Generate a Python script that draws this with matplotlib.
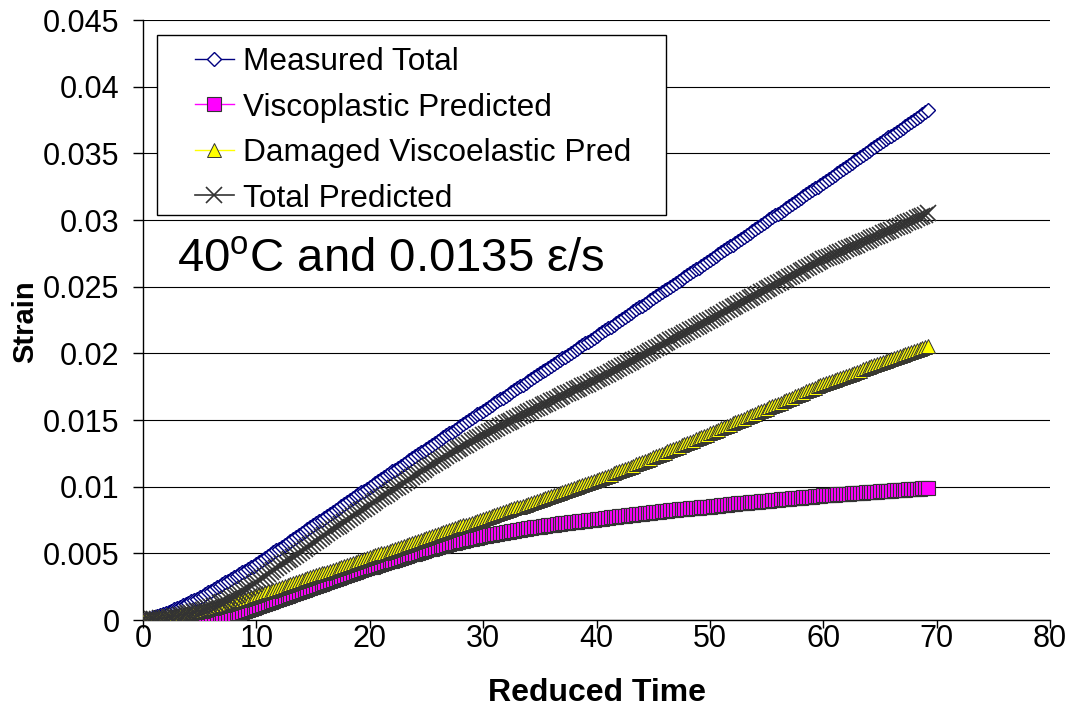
import matplotlib
matplotlib.use("Agg")
import matplotlib.pyplot as plt
from matplotlib.patches import Rectangle

plt.rcParams["font.family"] = ["Liberation Sans", "DejaVu Sans"]
plt.rcParams["mathtext.fontset"] = "custom"
plt.rcParams["mathtext.rm"] = "Liberation Sans"
plt.rcParams["mathtext.it"] = "Liberation Sans:italic"
plt.rcParams["mathtext.bf"] = "Liberation Sans:bold"

# Reduced time samples (one row per time unit)
reduced_time = [
    0, 0.25, 0.5, 0.75, 1, 1.25, 1.5, 1.75, 2, 2.25, 2.5, 2.75,
    3, 3.25, 3.5, 3.75, 4, 4.25, 4.5, 4.75, 5, 5.25, 5.5, 5.75,
    6, 6.25, 6.5, 6.75, 7, 7.25, 7.5, 7.75, 8, 8.25, 8.5, 8.75,
    9, 9.25, 9.5, 9.75, 10, 10.25, 10.5, 10.75, 11, 11.25, 11.5, 11.75,
    12, 12.25, 12.5, 12.75, 13, 13.25, 13.5, 13.75, 14, 14.25, 14.5, 14.75,
    15, 15.25, 15.5, 15.75, 16, 16.25, 16.5, 16.75, 17, 17.25, 17.5, 17.75,
    18, 18.25, 18.5, 18.75, 19, 19.25, 19.5, 19.75, 20, 20.25, 20.5, 20.75,
    21, 21.25, 21.5, 21.75, 22, 22.25, 22.5, 22.75, 23, 23.25, 23.5, 23.75,
    24, 24.25, 24.5, 24.75, 25, 25.25, 25.5, 25.75, 26, 26.25, 26.5, 26.75,
    27, 27.25, 27.5, 27.75, 28, 28.25, 28.5, 28.75, 29, 29.25, 29.5, 29.75,
    30, 30.25, 30.5, 30.75, 31, 31.25, 31.5, 31.75, 32, 32.25, 32.5, 32.75,
    33, 33.25, 33.5, 33.75, 34, 34.25, 34.5, 34.75, 35, 35.25, 35.5, 35.75,
    36, 36.25, 36.5, 36.75, 37, 37.25, 37.5, 37.75, 38, 38.25, 38.5, 38.75,
    39, 39.25, 39.5, 39.75, 40, 40.25, 40.5, 40.75, 41, 41.25, 41.5, 41.75,
    42, 42.25, 42.5, 42.75, 43, 43.25, 43.5, 43.75, 44, 44.25, 44.5, 44.75,
    45, 45.25, 45.5, 45.75, 46, 46.25, 46.5, 46.75, 47, 47.25, 47.5, 47.75,
    48, 48.25, 48.5, 48.75, 49, 49.25, 49.5, 49.75, 50, 50.25, 50.5, 50.75,
    51, 51.25, 51.5, 51.75, 52, 52.25, 52.5, 52.75, 53, 53.25, 53.5, 53.75,
    54, 54.25, 54.5, 54.75, 55, 55.25, 55.5, 55.75, 56, 56.25, 56.5, 56.75,
    57, 57.25, 57.5, 57.75, 58, 58.25, 58.5, 58.75, 59, 59.25, 59.5, 59.75,
    60, 60.25, 60.5, 60.75, 61, 61.25, 61.5, 61.75, 62, 62.25, 62.5, 62.75,
    63, 63.25, 63.5, 63.75, 64, 64.25, 64.5, 64.75, 65, 65.25, 65.5, 65.75,
    66, 66.25, 66.5, 66.75, 67, 67.25, 67.5, 67.75, 68, 68.25, 68.5, 68.75,
    69, 69.25,
]

# Strain series in microstrain
measured_total_ue = [
    0, 50, 100, 150, 200, 275, 350, 425, 500, 600, 700, 800,
    900, 1000, 1100, 1200, 1300, 1400, 1500, 1600, 1700, 1825, 1950, 2075,
    2200, 2325, 2450, 2575, 2700, 2825, 2950, 3075, 3200, 3325, 3450, 3575,
    3700, 3825, 3950, 4075, 4200, 4345, 4490, 4635, 4780, 4925, 5070, 5215,
    5360, 5505, 5650, 5795, 5940, 6085, 6230, 6375, 6520, 6665, 6810, 6955,
    7100, 7245, 7390, 7535, 7680, 7825, 7970, 8115, 8260, 8405, 8550, 8695,
    8840, 8985, 9130, 9275, 9420, 9565, 9710, 9855, 10000, 10140, 10290, 10430,
    10570, 10710, 10860, 11000, 11140, 11280, 11430, 11570, 11710, 11850, 12000, 12140,
    12280, 12420, 12570, 12710, 12850, 12990, 13140, 13280, 13420, 13560, 13710, 13850,
    13990, 14130, 14280, 14420, 14560, 14700, 14850, 14990, 15130, 15270, 15420, 15560,
    15700, 15840, 15980, 16120, 16260, 16400, 16540, 16680, 16820, 16960, 17100, 17240,
    17380, 17520, 17660, 17800, 17940, 18080, 18220, 18360, 18500, 18640, 18780, 18920,
    19060, 19200, 19340, 19480, 19620, 19760, 19900, 20040, 20180, 20320, 20460, 20600,
    20740, 20880, 21020, 21160, 21300, 21440, 21590, 21730, 21870, 22010, 22160, 22300,
    22440, 22580, 22730, 22870, 23010, 23150, 23300, 23440, 23580, 23720, 23870, 24010,
    24150, 24290, 24440, 24580, 24720, 24860, 25010, 25150, 25290, 25430, 25580, 25720,
    25860, 26000, 26150, 26290, 26430, 26570, 26720, 26860, 27000, 27150, 27290, 27440,
    27580, 27730, 27870, 28020, 28160, 28310, 28450, 28600, 28740, 28890, 29030, 29180,
    29320, 29470, 29610, 29760, 29900, 30050, 30190, 30340, 30480, 30630, 30770, 30920,
    31060, 31210, 31350, 31500, 31640, 31790, 31930, 32080, 32220, 32370, 32510, 32660,
    32800, 32950, 33090, 33240, 33390, 33540, 33680, 33830, 33980, 34120, 34270, 34420,
    34570, 34710, 34860, 35010, 35160, 35300, 35450, 35600, 35740, 35890, 36040, 36190,
    36330, 36480, 36630, 36780, 36920, 37070, 37220, 37360, 37510, 37660, 37810, 37950,
    38100, 38250,
]

viscoplastic_ue = [
    0, 0, 0, 0, 0, 0, 0, 0, 0, 0, 0, 3,
    6, 8, 10, 13, 17, 22, 28, 36, 45, 58, 72, 92,
    115, 145, 175, 210, 250, 290, 335, 380, 430, 490, 555, 625,
    695, 770, 845, 925, 1000, 1075, 1150, 1225, 1300, 1375, 1450, 1525,
    1600, 1675, 1750, 1825, 1900, 1975, 2050, 2125, 2200, 2275, 2350, 2425,
    2500, 2575, 2650, 2725, 2800, 2875, 2950, 3025, 3100, 3175, 3250, 3325,
    3400, 3470, 3540, 3610, 3680, 3745, 3810, 3875, 3940, 4005, 4070, 4135,
    4200, 4265, 4330, 4395, 4460, 4525, 4590, 4655, 4720, 4785, 4850, 4915,
    4980, 5045, 5110, 5175, 5240, 5300, 5360, 5415, 5470, 5525, 5580, 5635,
    5690, 5745, 5800, 5850, 5900, 5950, 6000, 6045, 6090, 6135, 6180, 6225,
    6270, 6310, 6350, 6390, 6430, 6470, 6510, 6550, 6590, 6625, 6660, 6695,
    6730, 6765, 6800, 6835, 6870, 6905, 6940, 6970, 7000, 7030, 7060, 7090,
    7120, 7150, 7180, 7210, 7240, 7265, 7290, 7315, 7340, 7365, 7390, 7415,
    7440, 7465, 7490, 7515, 7540, 7570, 7600, 7630, 7660, 7690, 7720, 7750,
    7780, 7805, 7830, 7855, 7880, 7905, 7930, 7955, 7980, 8005, 8030, 8055,
    8080, 8105, 8130, 8155, 8180, 8205, 8230, 8250, 8270, 8290, 8310, 8330,
    8350, 8370, 8390, 8410, 8430, 8450, 8470, 8490, 8510, 8535, 8560, 8585,
    8610, 8635, 8660, 8680, 8700, 8720, 8740, 8760, 8780, 8800, 8820, 8840,
    8860, 8880, 8900, 8920, 8940, 8960, 8980, 9000, 9020, 9040, 9060, 9080,
    9100, 9120, 9140, 9160, 9180, 9200, 9220, 9240, 9260, 9280, 9300, 9320,
    9340, 9355, 9370, 9385, 9400, 9420, 9440, 9455, 9470, 9485, 9500, 9515,
    9530, 9545, 9560, 9575, 9590, 9605, 9620, 9635, 9650, 9665, 9680, 9695,
    9710, 9725, 9740, 9755, 9770, 9785, 9800, 9815, 9830, 9845, 9860, 9880,
    9900, 9915,
]

damaged_viscoelastic_ue = [
    0, 15, 30, 50, 70, 95, 120, 150, 180, 215, 250, 285,
    320, 360, 400, 440, 480, 525, 570, 615, 660, 710, 760, 815,
    870, 925, 980, 1040, 1100, 1160, 1220, 1285, 1350, 1410, 1470, 1535,
    1600, 1665, 1730, 1795, 1860, 1930, 2000, 2070, 2140, 2210, 2280, 2355,
    2430, 2500, 2570, 2640, 2710, 2780, 2850, 2920, 2990, 3060, 3130, 3205,
    3280, 3350, 3420, 3490, 3560, 3630, 3700, 3770, 3840, 3910, 3980, 4055,
    4130, 4200, 4270, 4340, 4410, 4480, 4550, 4625, 4700, 4770, 4840, 4915,
    4990, 5060, 5130, 5205, 5280, 5350, 5420, 5495, 5570, 5640, 5710, 5785,
    5860, 5930, 6000, 6075, 6150, 6220, 6290, 6365, 6440, 6510, 6580, 6655,
    6730, 6800, 6870, 6945, 7020, 7090, 7160, 7235, 7310, 7380, 7450, 7525,
    7600, 7670, 7740, 7810, 7880, 7950, 8020, 8090, 8160, 8230, 8300, 8370,
    8440, 8510, 8580, 8650, 8720, 8790, 8860, 8930, 9000, 9071, 9142, 9213,
    9284, 9357, 9430, 9503, 9576, 9651, 9726, 9801, 9876, 9953, 10030, 10107,
    10184, 10263, 10342, 10421, 10500, 10581, 10662, 10743, 10824, 10907, 10990, 11073,
    11156, 11241, 11326, 11411, 11496, 11583, 11670, 11757, 11844, 11933, 12022, 12111,
    12200, 12290, 12380, 12470, 12560, 12650, 12740, 12830, 12920, 13010, 13100, 13190,
    13280, 13370, 13460, 13550, 13640, 13730, 13820, 13910, 14000, 14090, 14190, 14280,
    14370, 14460, 14560, 14650, 14740, 14830, 14930, 15020, 15110, 15200, 15300, 15390,
    15480, 15570, 15670, 15760, 15850, 15940, 16040, 16130, 16220, 16310, 16410, 16500,
    16590, 16680, 16780, 16870, 16960, 17050, 17150, 17240, 17330, 17420, 17520, 17610,
    17700, 17780, 17860, 17930, 18010, 18090, 18170, 18240, 18320, 18400, 18480, 18560,
    18630, 18710, 18790, 18870, 18940, 19020, 19100, 19180, 19260, 19330, 19410, 19490,
    19570, 19640, 19720, 19800, 19880, 19960, 20030, 20110, 20190, 20270, 20340, 20420,
    20500, 20580,
]

total_predicted_ue = [
    0, 15, 30, 50, 70, 95, 120, 150, 180, 215, 250, 288,
    326, 368, 410, 453, 497, 547, 598, 651, 705, 768, 832, 907,
    985, 1070, 1155, 1250, 1350, 1450, 1555, 1665, 1780, 1900, 2025, 2160,
    2295, 2435, 2575, 2720, 2860, 3005, 3150, 3295, 3440, 3585, 3730, 3880,
    4030, 4175, 4320, 4465, 4610, 4755, 4900, 5045, 5190, 5335, 5480, 5630,
    5780, 5925, 6070, 6215, 6360, 6505, 6650, 6795, 6940, 7085, 7230, 7380,
    7530, 7670, 7810, 7950, 8090, 8225, 8360, 8500, 8640, 8775, 8910, 9050,
    9190, 9325, 9460, 9600, 9740, 9875, 10010, 10150, 10290, 10425, 10560, 10700,
    10840, 10975, 11110, 11250, 11390, 11520, 11650, 11780, 11910, 12035, 12160, 12290,
    12420, 12545, 12670, 12795, 12920, 13040, 13160, 13280, 13400, 13515, 13630, 13750,
    13870, 13980, 14090, 14200, 14310, 14420, 14530, 14640, 14750, 14855, 14960, 15065,
    15170, 15275, 15380, 15485, 15590, 15695, 15800, 15900, 16000, 16101, 16202, 16303,
    16404, 16507, 16610, 16713, 16816, 16916, 17016, 17116, 17216, 17318, 17420, 17522,
    17624, 17728, 17832, 17936, 18040, 18151, 18262, 18373, 18484, 18597, 18710, 18823,
    18936, 19046, 19156, 19266, 19376, 19488, 19600, 19712, 19824, 19938, 20052, 20166,
    20280, 20395, 20510, 20625, 20740, 20855, 20970, 21080, 21190, 21300, 21410, 21520,
    21630, 21740, 21850, 21960, 22070, 22180, 22290, 22400, 22510, 22625, 22750, 22865,
    22980, 23095, 23220, 23330, 23440, 23550, 23670, 23780, 23890, 24000, 24120, 24230,
    24340, 24450, 24570, 24680, 24790, 24900, 25020, 25130, 25240, 25350, 25470, 25580,
    25690, 25800, 25920, 26030, 26140, 26250, 26370, 26480, 26590, 26700, 26820, 26930,
    27040, 27135, 27230, 27315, 27410, 27510, 27610, 27695, 27790, 27885, 27980, 28075,
    28160, 28255, 28350, 28445, 28530, 28625, 28720, 28815, 28910, 28995, 29090, 29185,
    29280, 29365, 29460, 29555, 29650, 29745, 29830, 29925, 30020, 30115, 30200, 30300,
    30400, 30495,
]

series_labels = [
    "Measured Total",
    "Viscoplastic Predicted",
    "Damaged Viscoelastic Pred",
    "Total Predicted",
]

x_ticks = [0, 10, 20, 30, 40, 50, 60, 70, 80]
y_ticks = [0, 0.005, 0.01, 0.015, 0.02, 0.025, 0.03, 0.035, 0.04, 0.045]
y_tick_labels = ["0", "0.005", "0.01", "0.015", "0.02", "0.025", "0.03", "0.035", "0.04", "0.045"]


def to_strain(values_ue):
    return [v * 1e-6 for v in values_ue]


W, H = 1074, 713
fig = plt.figure(figsize=(W / 100, H / 100), dpi=100)
ax = fig.add_axes([143 / W, 93 / H, 907 / W, 600 / H])

ax.plot(reduced_time, to_strain(measured_total_ue), color="#000080", lw=1.0,
        marker="D", ms=7.6, mfc="white", mec="#000080", mew=1.0,
        label=series_labels[0], zorder=3)
ax.plot(reduced_time, to_strain(viscoplastic_ue), color="#FF00FF", lw=1.0,
        marker="s", ms=9.5, mfc="#FF00FF", mec="#333333", mew=0.8,
        label=series_labels[1], zorder=3)
ax.plot(reduced_time, to_strain(damaged_viscoelastic_ue), color="#FFFF00", lw=1.0,
        marker="^", ms=10.5, mfc="#FFFF00", mec="#333333", mew=0.7,
        label=series_labels[2], zorder=3)
ax.plot(reduced_time, to_strain(total_predicted_ue), color="#333333", lw=1.2,
        marker="x", ms=11, mec="#333333", mew=1.2,
        label=series_labels[3], zorder=3)

ax.set_xlim(0, 80)
ax.set_ylim(0, 0.045)
ax.set_xticks(x_ticks)
ax.set_xticklabels([str(v) for v in x_ticks])
ax.set_yticks(y_ticks)
ax.set_yticklabels(y_tick_labels)
ax.tick_params(axis="both", labelsize=22, direction="out", width=1.0, color="black")
ax.tick_params(axis="y", length=7, pad=10)
ax.tick_params(axis="x", length=6, pad=-3)

for side in ("top", "right"):
    ax.spines[side].set_visible(False)
for side in ("left", "bottom"):
    ax.spines[side].set_color("black")
    ax.spines[side].set_linewidth(1.0)

ax.yaxis.grid(True, color="black", lw=0.8)
ax.set_axisbelow(True)

# legend box and entries
frame = Rectangle((157 / W, 1 - 215 / H), (666 - 157) / W, 180 / H,
                  transform=fig.transFigure, facecolor="white", edgecolor="black",
                  lw=1.0, zorder=4, clip_on=False)
ax.add_patch(frame)
leg = ax.legend(loc="upper left", bbox_to_anchor=(195 / W, 1 - 47 / H),
                bbox_transform=fig.transFigure, frameon=False, fontsize=22.8,
                handlelength=1.22, handletextpad=0.3, labelspacing=0.49,
                borderpad=0, borderaxespad=0, markerscale=1.0)
leg.set_zorder(5)

ax.text(3.0, 0.0261, "40$^{\\mathrm{o}}$C and 0.0135 ε/s", fontsize=34,
        va="baseline", ha="left", zorder=5)

fig.text(597 / W, 1 - 693 / H, "Reduced Time", fontsize=23, fontweight="bold",
         ha="center", va="center")
fig.text(25 / W, 1 - 322 / H, "Strain", fontsize=21, fontweight="bold",
         ha="center", va="center", rotation=90)

fig.savefig("out.png", dpi=100)
